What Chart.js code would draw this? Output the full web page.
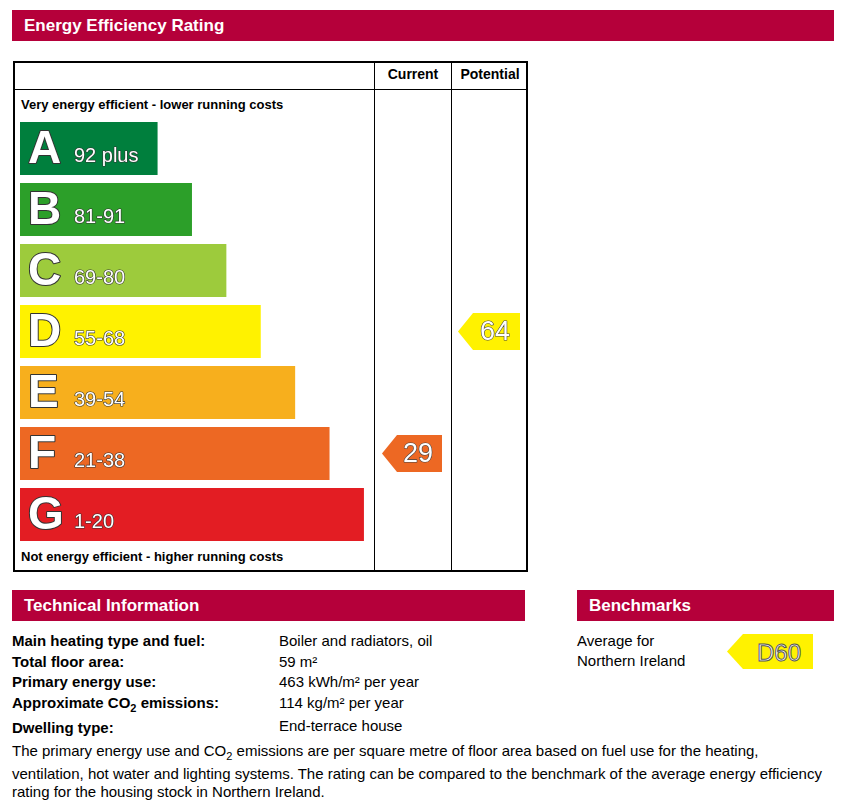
<!DOCTYPE html>
<html><head><meta charset="utf-8">
<script src="https://cdn.jsdelivr.net/npm/chart.js@4/dist/chart.umd.min.js"></script>
<style>
body{margin:0;width:841px;height:805px;background:#fff;font-family:"Liberation Sans",Arial,sans-serif;position:relative;overflow:hidden}
.a{position:absolute}
.hdr{background:#b5003a;color:#fff;font-weight:bold;font-size:17px;line-height:31px;padding-left:12px;box-sizing:border-box}
.lbl{font-weight:bold;font-size:15px}
.val{font-size:15px}
</style></head><body>
<div class="a hdr" style="left:12px;top:10px;width:822px;height:31px">Energy Efficiency Rating</div>
<div class="a" style="left:13px;top:61px;width:515px;height:511px;border:2px solid #000;box-sizing:border-box"></div>
<div class="a" style="left:13px;top:89px;width:515px;border-top:1px solid #000"></div>
<div class="a" style="left:374px;top:61px;height:511px;border-left:1px solid #000"></div>
<div class="a" style="left:451px;top:61px;height:511px;border-left:1px solid #000"></div>
<div class="a" style="left:375px;top:66px;width:76px;text-align:center;font-weight:bold;font-size:14px">Current</div>
<div class="a" style="left:452px;top:66px;width:76px;text-align:center;font-weight:bold;font-size:14px">Potential</div>
<div class="a" style="left:21px;top:97px;font-weight:bold;font-size:13px">Very energy efficient - lower running costs</div>
<div class="a" style="left:21px;top:549px;font-weight:bold;font-size:13px">Not energy efficient - higher running costs</div>
<div class="a" style="left:20px;top:118px;width:508px;height:427px"><canvas id="c"></canvas></div>

<div class="a hdr" style="left:12px;top:590px;width:513px;height:31px">Technical Information</div>
<div class="a hdr" style="left:577px;top:590px;width:257px;height:31px">Benchmarks</div>
<div class="a lbl" style="left:12px;top:631px;line-height:20.5px">Main heating type and fuel:<br>Total floor area:<br>Primary energy use:<br>Approximate CO<sub style="font-size:11px">2</sub> emissions:<br>Dwelling type:</div>
<div class="a val" style="left:279px;top:631px;line-height:20.5px">Boiler and radiators, oil<br>59 m²<br>463 kWh/m² per year<br>114 kg/m² per year<br><span style="position:relative;top:3px">End-terrace house</span></div>
<div class="a val" style="left:577px;top:631px;line-height:20px">Average for<br>Northern Ireland</div>
<svg class="a" style="left:727px;top:634px" width="86" height="35"><polygon points="0,17.5 16,0 86,0 86,35 16,35" fill="#fff200"/><text x="52" y="27" text-anchor="middle" font-family="Liberation Sans" font-size="24" fill="#fff" stroke="#555" stroke-width="1">D60</text></svg>
<div class="a val" style="left:12px;top:742px;width:820px;line-height:18px">The primary energy use and CO<sub style="font-size:11px">2</sub> emissions are per square metre of floor area based on fuel use for the heating, ventilation, hot water and lighting systems. The rating can be compared to the benchmark of the average energy efficiency rating for the housing stock in Northern Ireland.</div>
<script>
const bands=['A','B','C','D','E','F','G'];
const ranges=['92 plus','81-91','69-80','55-68','39-54','21-38','1-20'];
const barLengths=[4,5,6,7,8,9,10];
const colors=['#007f3d','#2c9f29','#9dcb3c','#fff200','#f7af1d','#ed6823','#e31d23'];
const currentRating=29, currentBand='F';
const potentialRating=64, potentialBand='D';
const pointerCols=[{band:currentBand,val:currentRating,x0:362,x1:422},{band:potentialBand,val:potentialRating,x0:438,x1:500}];
const labels={id:'labels',afterDatasetsDraw(ch){
 const ctx=ch.ctx,y=ch.scales.y;
 ctx.save();ctx.lineJoin='round';
 ch.getDatasetMeta(0).data.forEach((b,i)=>{
  const cy=b.y;
  ctx.font='bold 46px "Liberation Sans"';ctx.textBaseline='middle';ctx.textAlign='left';
  ctx.lineWidth=2;ctx.strokeStyle='#333';ctx.fillStyle='#fff';
  ctx.strokeText(bands[i],8,cy+2);ctx.fillText(bands[i],8,cy+2);
  ctx.font='20px "Liberation Sans"';ctx.lineWidth=1.2;
  ctx.strokeText(ranges[i],54,cy+8);ctx.fillText(ranges[i],54,cy+8);
 });
 pointerCols.forEach(p=>{
  const i=bands.indexOf(p.band),cy=y.getPixelForValue(i),h=37;
  ctx.fillStyle=colors[i];ctx.beginPath();
  ctx.moveTo(p.x0,cy);ctx.lineTo(p.x0+15,cy-h/2);ctx.lineTo(p.x1,cy-h/2);ctx.lineTo(p.x1,cy+h/2);ctx.lineTo(p.x0+15,cy+h/2);ctx.closePath();ctx.fill();
  ctx.font='27px "Liberation Sans"';ctx.textAlign='center';ctx.textBaseline='middle';
  ctx.lineWidth=1.2;ctx.strokeStyle='#444';ctx.fillStyle='#fff';
  ctx.strokeText(String(p.val),(p.x0+p.x1)/2+6,cy+1);ctx.fillText(String(p.val),(p.x0+p.x1)/2+6,cy+1);
 });
 ctx.restore();
}};
new Chart(document.getElementById('c'),{type:'bar',
 data:{labels:bands,datasets:[{data:barLengths,backgroundColor:colors,barPercentage:53/61,categoryPercentage:1}]},
 options:{indexAxis:'y',responsive:true,maintainAspectRatio:false,animation:false,
  layout:{padding:0},
  plugins:{legend:{display:false},tooltip:{enabled:false}},
  scales:{x:{display:false,min:0,max:14.77},y:{display:false}}},
 plugins:[labels]});
</script>
</body></html>
